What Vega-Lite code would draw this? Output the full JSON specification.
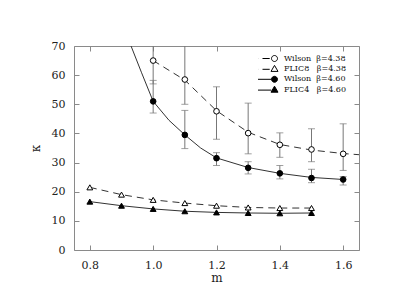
{
  "$schema": "https://vega.github.io/schema/vega-lite/v6.json",
  "width": 285,
  "height": 204,
  "autosize": "none",
  "padding": {"left": 74, "top": 46, "right": 40, "bottom": 58},
  "background": "white",
  "config": {
    "view": {"stroke": "#8a8a8a", "strokeWidth": 1},
    "axis": {
      "domain": false, "grid": false, "tickColor": "#8a8a8a", "tickSize": -5, "tickWidth": 1,
      "labelFont": "DejaVu Serif", "labelFontSize": 11, "labelColor": "#222",
      "titleFont": "DejaVu Serif", "titleFontSize": 12, "titleColor": "#222", "titleFontWeight": "normal"
    },
    "legend": {
      "labelFont": "DejaVu Serif", "labelFontSize": 8, "labelColor": "#111",
      "symbolSize": 64, "symbolStrokeWidth": 1,
      "labelOffset": 17, "rowPadding": 0.4, "padding": 0
    }
  },
  "datasets": {
    "pts": [
      {"series": "Wilson\u00a0\u00a0β=4.38", "m": 1.0, "k": 65.0, "lo": 57.0, "hi": 75.0},
      {"series": "Wilson\u00a0\u00a0β=4.38", "m": 1.1, "k": 58.5, "lo": 50.0, "hi": 75.0},
      {"series": "Wilson\u00a0\u00a0β=4.38", "m": 1.2, "k": 47.6, "lo": 38.0, "hi": 56.0},
      {"series": "Wilson\u00a0\u00a0β=4.38", "m": 1.3, "k": 40.1, "lo": 33.0, "hi": 50.4},
      {"series": "Wilson\u00a0\u00a0β=4.38", "m": 1.4, "k": 36.1, "lo": 31.8, "hi": 40.2},
      {"series": "Wilson\u00a0\u00a0β=4.38", "m": 1.5, "k": 34.5, "lo": 30.3, "hi": 41.6},
      {"series": "Wilson\u00a0\u00a0β=4.38", "m": 1.6, "k": 33.0, "lo": 27.3, "hi": 43.3},
      {"series": "FLIC8\u00a0\u00a0\u00a0β=4.38", "m": 0.8, "k": 21.5},
      {"series": "FLIC8\u00a0\u00a0\u00a0β=4.38", "m": 0.9, "k": 19.0},
      {"series": "FLIC8\u00a0\u00a0\u00a0β=4.38", "m": 1.0, "k": 17.2},
      {"series": "FLIC8\u00a0\u00a0\u00a0β=4.38", "m": 1.1, "k": 16.1},
      {"series": "FLIC8\u00a0\u00a0\u00a0β=4.38", "m": 1.2, "k": 15.2},
      {"series": "FLIC8\u00a0\u00a0\u00a0β=4.38", "m": 1.3, "k": 14.6},
      {"series": "FLIC8\u00a0\u00a0\u00a0β=4.38", "m": 1.4, "k": 14.4},
      {"series": "FLIC8\u00a0\u00a0\u00a0β=4.38", "m": 1.5, "k": 14.4},
      {"series": "Wilson\u00a0\u00a0β=4.60", "m": 1.0, "k": 51.0, "lo": 47.0, "hi": 58.2},
      {"series": "Wilson\u00a0\u00a0β=4.60", "m": 1.1, "k": 39.5, "lo": 34.8, "hi": 47.9},
      {"series": "Wilson\u00a0\u00a0β=4.60", "m": 1.2, "k": 31.5, "lo": 29.0, "hi": 33.4},
      {"series": "Wilson\u00a0\u00a0β=4.60", "m": 1.3, "k": 28.2, "lo": 26.1, "hi": 30.3},
      {"series": "Wilson\u00a0\u00a0β=4.60", "m": 1.4, "k": 26.3, "lo": 24.4, "hi": 29.0},
      {"series": "Wilson\u00a0\u00a0β=4.60", "m": 1.5, "k": 24.7, "lo": 23.1, "hi": 27.7},
      {"series": "Wilson\u00a0\u00a0β=4.60", "m": 1.6, "k": 24.2, "lo": 22.3, "hi": 25.2},
      {"series": "FLIC4\u00a0\u00a0\u00a0β=4.60", "m": 0.8, "k": 16.6},
      {"series": "FLIC4\u00a0\u00a0\u00a0β=4.60", "m": 0.9, "k": 15.2},
      {"series": "FLIC4\u00a0\u00a0\u00a0β=4.60", "m": 1.0, "k": 14.1},
      {"series": "FLIC4\u00a0\u00a0\u00a0β=4.60", "m": 1.1, "k": 13.3},
      {"series": "FLIC4\u00a0\u00a0\u00a0β=4.60", "m": 1.2, "k": 12.9},
      {"series": "FLIC4\u00a0\u00a0\u00a0β=4.60", "m": 1.3, "k": 12.7},
      {"series": "FLIC4\u00a0\u00a0\u00a0β=4.60", "m": 1.4, "k": 12.6},
      {"series": "FLIC4\u00a0\u00a0\u00a0β=4.60", "m": 1.5, "k": 12.7}
    ],
    "fit": [
      {"series": "Wilson\u00a0\u00a0β=4.38", "m": 1.0, "k": 65.0},
      {"series": "Wilson\u00a0\u00a0β=4.38", "m": 1.1, "k": 58.3},
      {"series": "Wilson\u00a0\u00a0β=4.38", "m": 1.2, "k": 47.8},
      {"series": "Wilson\u00a0\u00a0β=4.38", "m": 1.3, "k": 40.4},
      {"series": "Wilson\u00a0\u00a0β=4.38", "m": 1.4, "k": 36.2},
      {"series": "Wilson\u00a0\u00a0β=4.38", "m": 1.5, "k": 34.3},
      {"series": "Wilson\u00a0\u00a0β=4.38", "m": 1.6, "k": 33.1},
      {"series": "Wilson\u00a0\u00a0β=4.38", "m": 1.65, "k": 32.7},
      {"series": "FLIC8\u00a0\u00a0\u00a0β=4.38", "m": 0.8, "k": 21.5},
      {"series": "FLIC8\u00a0\u00a0\u00a0β=4.38", "m": 0.9, "k": 19.0},
      {"series": "FLIC8\u00a0\u00a0\u00a0β=4.38", "m": 1.0, "k": 17.2},
      {"series": "FLIC8\u00a0\u00a0\u00a0β=4.38", "m": 1.1, "k": 16.1},
      {"series": "FLIC8\u00a0\u00a0\u00a0β=4.38", "m": 1.2, "k": 15.2},
      {"series": "FLIC8\u00a0\u00a0\u00a0β=4.38", "m": 1.3, "k": 14.6},
      {"series": "FLIC8\u00a0\u00a0\u00a0β=4.38", "m": 1.4, "k": 14.4},
      {"series": "FLIC8\u00a0\u00a0\u00a0β=4.38", "m": 1.5, "k": 14.4},
      {"series": "Wilson\u00a0\u00a0β=4.60", "m": 0.92, "k": 72.8},
      {"series": "Wilson\u00a0\u00a0β=4.60", "m": 0.9635, "k": 60.8},
      {"series": "Wilson\u00a0\u00a0β=4.60", "m": 1.0, "k": 51.0},
      {"series": "Wilson\u00a0\u00a0β=4.60", "m": 1.05, "k": 44.5},
      {"series": "Wilson\u00a0\u00a0β=4.60", "m": 1.1, "k": 39.5},
      {"series": "Wilson\u00a0\u00a0β=4.60", "m": 1.15, "k": 35.0},
      {"series": "Wilson\u00a0\u00a0β=4.60", "m": 1.2, "k": 31.6},
      {"series": "Wilson\u00a0\u00a0β=4.60", "m": 1.3, "k": 28.3},
      {"series": "Wilson\u00a0\u00a0β=4.60", "m": 1.4, "k": 26.3},
      {"series": "Wilson\u00a0\u00a0β=4.60", "m": 1.5, "k": 24.9},
      {"series": "Wilson\u00a0\u00a0β=4.60", "m": 1.6, "k": 24.2},
      {"series": "FLIC4\u00a0\u00a0\u00a0β=4.60", "m": 0.8, "k": 16.6},
      {"series": "FLIC4\u00a0\u00a0\u00a0β=4.60", "m": 0.9, "k": 15.2},
      {"series": "FLIC4\u00a0\u00a0\u00a0β=4.60", "m": 1.0, "k": 14.1},
      {"series": "FLIC4\u00a0\u00a0\u00a0β=4.60", "m": 1.1, "k": 13.3},
      {"series": "FLIC4\u00a0\u00a0\u00a0β=4.60", "m": 1.2, "k": 12.9},
      {"series": "FLIC4\u00a0\u00a0\u00a0β=4.60", "m": 1.3, "k": 12.7},
      {"series": "FLIC4\u00a0\u00a0\u00a0β=4.60", "m": 1.4, "k": 12.6},
      {"series": "FLIC4\u00a0\u00a0\u00a0β=4.60", "m": 1.5, "k": 12.7}
    ]
  },
  "layer": [
    {
      "data": {"name": "fit"},
      "transform": [{"filter": "indexof(datum.series, '4.38') >= 0"}],
      "mark": {"type": "line", "clip": true, "color": "#333", "strokeWidth": 1, "strokeDash": [7, 5]},
      "encoding": {
        "x": {"field": "m", "type": "quantitative", "scale": {"domain": [0.75, 1.65], "nice": false, "zero": false},
              "axis": {"orient": "bottom", "values": [0.8, 1.0, 1.2, 1.4, 1.6], "format": ".1f", "title": "m", "labelPadding": 14, "titlePadding": 2}},
        "y": {"field": "k", "type": "quantitative", "scale": {"domain": [0, 70], "nice": false},
              "axis": {"orient": "left", "values": [0, 10, 20, 30, 40, 50, 60, 70], "title": "κ", "labelPadding": 14, "titlePadding": 9}},
        "detail": {"field": "series", "type": "nominal"}
      }
    },
    {
      "data": {"name": "fit"},
      "transform": [{"filter": "indexof(datum.series, '4.60') >= 0"}],
      "mark": {"type": "line", "clip": true, "color": "#333", "strokeWidth": 1},
      "encoding": {
        "x": {"field": "m", "type": "quantitative", "axis": null},
        "y": {"field": "k", "type": "quantitative", "axis": null},
        "detail": {"field": "series", "type": "nominal"}
      }
    },
    {
      "data": {"name": "pts"},
      "transform": [{"filter": "isValid(datum.lo)"}],
      "mark": {"type": "rule", "clip": true, "color": "#777", "strokeWidth": 1},
      "encoding": {
        "x": {"field": "m", "type": "quantitative",
              "axis": {"orient": "top", "values": [0.8, 1.0, 1.2, 1.4, 1.6], "labels": false, "title": null}},
        "y": {"field": "lo", "type": "quantitative",
              "axis": {"orient": "right", "values": [0, 10, 20, 30, 40, 50, 60, 70], "labels": false, "title": null}},
        "y2": {"field": "hi"}
      }
    },
    {
      "data": {"name": "pts"},
      "transform": [{"filter": "isValid(datum.lo)"}],
      "mark": {"type": "tick", "orient": "horizontal", "clip": true, "color": "#777", "size": 7, "thickness": 1},
      "encoding": {
        "x": {"field": "m", "type": "quantitative", "axis": null},
        "y": {"field": "lo", "type": "quantitative", "axis": null}
      }
    },
    {
      "data": {"name": "pts"},
      "transform": [{"filter": "isValid(datum.hi)"}],
      "mark": {"type": "tick", "orient": "horizontal", "clip": true, "color": "#777", "size": 7, "thickness": 1},
      "encoding": {
        "x": {"field": "m", "type": "quantitative", "axis": null},
        "y": {"field": "hi", "type": "quantitative", "axis": null}
      }
    },
    {
      "data": {"name": "pts"},
      "transform": [{"filter": "datum.series == 'Wilson\u00a0\u00a0β=4.38'"}],
      "mark": {"type": "point", "shape": "circle", "filled": true, "fill": "white", "stroke": "#000", "strokeWidth": 1, "size": 32, "opacity": 1},
      "encoding": {
        "x": {"field": "m", "type": "quantitative", "axis": null},
        "y": {"field": "k", "type": "quantitative", "axis": null}
      }
    },
    {
      "data": {"name": "pts"},
      "transform": [{"filter": "datum.series == 'FLIC8\u00a0\u00a0\u00a0β=4.38'"}],
      "mark": {"type": "point", "shape": "triangle-up", "filled": true, "fill": "white", "stroke": "#000", "strokeWidth": 1, "size": 34, "opacity": 1},
      "encoding": {
        "x": {"field": "m", "type": "quantitative", "axis": null},
        "y": {"field": "k", "type": "quantitative", "axis": null}
      }
    },
    {
      "data": {"name": "pts"},
      "transform": [{"filter": "datum.series == 'Wilson\u00a0\u00a0β=4.60'"}],
      "mark": {"type": "point", "shape": "circle", "filled": true, "fill": "black", "stroke": "#000", "strokeWidth": 1, "size": 32, "opacity": 1},
      "encoding": {
        "x": {"field": "m", "type": "quantitative", "axis": null},
        "y": {"field": "k", "type": "quantitative", "axis": null}
      }
    },
    {
      "data": {"name": "pts"},
      "transform": [{"filter": "datum.series == 'FLIC4\u00a0\u00a0\u00a0β=4.60'"}],
      "mark": {"type": "point", "shape": "triangle-up", "filled": true, "fill": "black", "stroke": "#000", "strokeWidth": 1, "size": 34, "opacity": 1},
      "encoding": {
        "x": {"field": "m", "type": "quantitative", "axis": null},
        "y": {"field": "k", "type": "quantitative", "axis": null}
      }
    },
    {
      "data": {"name": "pts"},
      "transform": [{"filter": "false"}],
      "mark": {"type": "point", "filled": true, "stroke": "#000", "strokeWidth": 1, "opacity": 1},
      "encoding": {
        "x": {"field": "m", "type": "quantitative", "axis": null},
        "y": {"field": "k", "type": "quantitative", "axis": null},
        "shape": {"field": "series", "type": "nominal",
          "scale": {"domain": ["Wilson\u00a0\u00a0β=4.38", "FLIC8\u00a0\u00a0\u00a0β=4.38", "Wilson\u00a0\u00a0β=4.60", "FLIC4\u00a0\u00a0\u00a0β=4.60"],
                    "range": [
                      "M-2.25,0A0.75,0.75 0 1,1 -3.75,0A0.75,0.75 0 1,1 -2.25,0ZM-2.25,0L-1.1,0M0,0L1.8,0M3.75,0A0.75,0.75 0 1,1 2.25,0A0.75,0.75 0 1,1 3.75,0Z",
                      "M-3,-0.875L-2.125,0.625L-3.875,0.625ZM-2.3,0.1L-1.1,0.1M0,0.1L1.8,0.1M3,-0.875L3.875,0.625L2.125,0.625Z",
                      "M-2.25,0A0.75,0.75 0 1,1 -3.75,0A0.75,0.75 0 1,1 -2.25,0ZM-2.25,0L2.25,0M3.75,0A0.75,0.75 0 1,1 2.25,0A0.75,0.75 0 1,1 3.75,0Z",
                      "M-3,-0.875L-2.125,0.625L-3.875,0.625ZM-2.2,0.1L2.2,0.1M3,-0.875L3.875,0.625L2.125,0.625Z"
                    ]},
          "legend": {"title": null, "orient": "none", "legendX": 184, "legendY": 7.5, "rowPadding": 0.4, "clipHeight": 10, "symbolSize": 64, "labelOffset": 17}},
        "fill": {"field": "series", "type": "nominal",
          "scale": {"domain": ["Wilson\u00a0\u00a0β=4.38", "FLIC8\u00a0\u00a0\u00a0β=4.38", "Wilson\u00a0\u00a0β=4.60", "FLIC4\u00a0\u00a0\u00a0β=4.60"], "range": ["white", "white", "black", "black"]},
          "legend": {"title": null, "orient": "none", "legendX": 184, "legendY": 7.5, "rowPadding": 0.4, "clipHeight": 10, "symbolSize": 64, "labelOffset": 17}}
      }
    }
  ],
  "resolve": {"axis": {"x": "independent", "y": "independent"}}
}
